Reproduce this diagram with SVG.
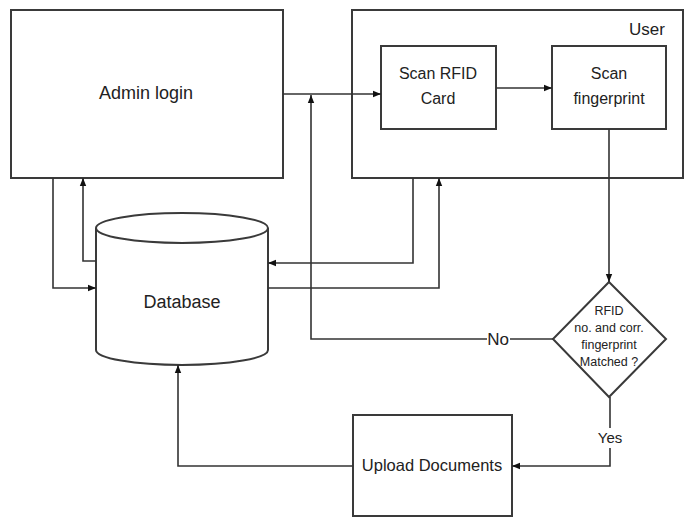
<svg xmlns="http://www.w3.org/2000/svg" width="685" height="518" viewBox="0 0 685 518">
  <style>
    .box { fill: #fff; stroke: #3a3a3a; stroke-width: 2; }
    .wire { fill: none; stroke: #333; stroke-width: 1.6; }
    .lbl { font-family: "Liberation Sans", Arial, sans-serif; fill: #222; text-anchor: middle; }
  </style>
  <defs>
    <marker id="arrow" viewBox="0 0 10 10" refX="10" refY="5" markerWidth="8" markerHeight="8" orient="auto" markerUnits="userSpaceOnUse">
      <path d="M0,1 L10,5 L0,9 z" fill="#111"/>
    </marker>
  </defs>
  <rect width="685" height="518" fill="#fff"/>

  <g id="admin-login">
    <rect class="box" x="11" y="10" width="272" height="168"/>
    <text class="lbl" x="146" y="99" font-size="18">Admin login</text>
  </g>

  <g id="user">
    <rect class="box" x="352" y="10" width="331" height="168"/>
    <text class="lbl" x="665" y="35" font-size="17" style="text-anchor:end">User</text>
  </g>

  <g id="scan-rfid">
    <rect class="box" x="381" y="46" width="115" height="83"/>
    <text class="lbl" x="438" y="79" font-size="16">Scan RFID</text>
    <text class="lbl" x="438" y="104" font-size="16">Card</text>
  </g>

  <g id="scan-fingerprint">
    <rect class="box" x="552" y="46" width="114" height="83"/>
    <text class="lbl" x="609" y="79" font-size="16">Scan</text>
    <text class="lbl" x="609" y="104" font-size="16">fingerprint</text>
  </g>

  <g id="database">
    <path class="box" d="M96,228 L96,350 A86,15 0 0 0 268,350 L268,228"/>
    <ellipse class="box" cx="182" cy="228" rx="86" ry="15"/>
    <text class="lbl" x="182" y="308" font-size="18">Database</text>
  </g>

  <g id="match-decision">
    <polygon class="box" points="609,282 666,339 609,397 553,339"/>
    <text class="lbl" x="609" y="315" font-size="12.5">RFID</text>
    <text class="lbl" x="609" y="332" font-size="12.5">no. and corr.</text>
    <text class="lbl" x="609" y="349" font-size="12.5">fingerprint</text>
    <text class="lbl" x="609" y="366" font-size="12.5">Matched ?</text>
  </g>

  <g id="upload-documents">
    <rect class="box" x="353" y="415" width="159" height="101"/>
    <text class="lbl" x="432" y="471" font-size="16.5">Upload Documents</text>
  </g>

  <g id="connectors">
    <!-- admin login to RFID scan -->
    <path class="wire" d="M283,94 L381,94" marker-end="url(#arrow)"/>
    <!-- RFID scan to fingerprint scan -->
    <path class="wire" d="M496,88 L552,88" marker-end="url(#arrow)"/>
    <!-- fingerprint to decision -->
    <path class="wire" d="M609,129 L609,282" marker-end="url(#arrow)"/>
    <!-- decision: No branch back to the RFID scan line -->
    <path class="wire" d="M553,339 L510,339"/>
    <path class="wire" d="M487,339 L311,339 L311,95" marker-end="url(#arrow)"/>
    <text class="lbl" x="498" y="345" font-size="17">No</text>
    <!-- decision: Yes branch to upload -->
    <path class="wire" d="M610,397 L610,428"/>
    <path class="wire" d="M610,448 L610,466 L512,466" marker-end="url(#arrow)"/>
    <text class="lbl" x="610" y="443" font-size="15">Yes</text>
    <!-- upload to database -->
    <path class="wire" d="M353,466 L178,466 L178,365" marker-end="url(#arrow)"/>
    <!-- admin login and database -->
    <path class="wire" d="M53,178 L53,288 L96,288" marker-end="url(#arrow)"/>
    <path class="wire" d="M96,261 L83,261 L83,178" marker-end="url(#arrow)"/>
    <!-- user and database -->
    <path class="wire" d="M413,178 L413,263 L268,263" marker-end="url(#arrow)"/>
    <path class="wire" d="M268,288 L439,288 L439,178" marker-end="url(#arrow)"/>
  </g>
</svg>
